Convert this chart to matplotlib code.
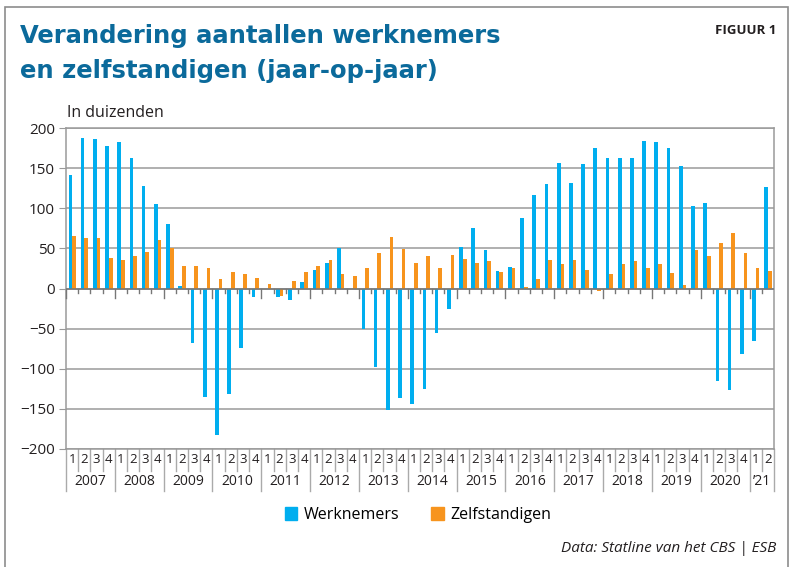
import matplotlib.pyplot as plt
import numpy as np
from matplotlib.patches import Rectangle
import matplotlib.transforms as mtransforms

plt.rcParams['font.family'] = ['Open Sans', 'DejaVu Sans']

years = ['2007', '2008', '2009', '2010', '2011', '2012', '2013',
         '2014', '2015', '2016', '2017', '2018', '2019', '2020', '\u201921']
quarters_per_year = [4] * 14 + [2]

# jaar-op-jaar verandering, in duizenden, per kwartaal 2007K1 - 2021K2
werknemers = [142, 188, 186, 177,
              182, 162, 128, 105,
              80, 3, -68, -135,
              -183, -132, -74, -10,
              -1, -10, -14, 8,
              23, 32, 50, -1,
              -51, -98, -151, -136,
              -144, -125, -56, -26,
              52, 76, 48, 22,
              27, 88, 117, 130,
              156, 132, 155, 175,
              162, 163, 162, 184,
              182, 175, 153, 103,
              107, -115, -126, -82,
              -65, 126]
zelfstandigen = [65, 63, 63, 38,
                 35, 40, 45, 60,
                 50, 28, 28, 26,
                 12, 21, 18, 13,
                 6, -9, 9, 20,
                 28, 36, 18, 15,
                 26, 44, 64, 49,
                 32, 41, 25, 42,
                 37, 32, 34, 20,
                 26, 2, 12, 36,
                 30, 35, 23, -3,
                 18, 31, 34, 26,
                 30, 19, 4, 48,
                 40, 57, 69, 44,
                 26, 22]

blue = '#00aeef'
orange = '#f7941d'
grid_c = '#9a9a9a'
text_c = '#231f20'

fig = plt.figure(figsize=(7.9, 5.67), dpi=100)
fig.patches.append(Rectangle((5 / 790, -0.01), 783 / 790, 1 - 7 / 567 + 0.01,
                             transform=fig.transFigure, fill=False,
                             edgecolor='#8c8c8c', lw=1.2))

ax = fig.add_axes([66 / 790, 1 - 449 / 567, (774 - 66) / 790, (449 - 128) / 567])

n = len(werknemers)
x = np.arange(n)
ax.bar(x + 0.36, werknemers, width=0.3, color=blue, zorder=3)
ax.bar(x + 0.66, zelfstandigen, width=0.3, color=orange, zorder=3)

ax.set_xlim(0, n)
ax.set_ylim(-200, 200)
ax.set_yticks(range(-200, 201, 50))
ax.set_yticklabels([str(v).replace('-', '\u2212') for v in range(-200, 201, 50)],
                   fontsize=11, color=text_c)
ax.tick_params(axis='y', length=5, color=grid_c, pad=3)
ax.set_xticks([])
ax.grid(axis='y', color=grid_c, lw=1.1, zorder=0)
for s in ax.spines.values():
    s.set_color(grid_c)
    s.set_linewidth(1.1)
ax.axhline(0, color='#777777', lw=1.1, zorder=4)

# tickjes op de nullijn en kwartaal/jaar indeling onder de as
trans = mtransforms.blended_transform_factory(ax.transData, ax.transAxes)
zero_y = 0.5
pos = 0
for yr, nq in zip(years, quarters_per_year):
    for q in range(nq):
        xi = pos + q
        if q > 0:
            ax.plot([xi, xi], [zero_y, zero_y - 0.014], transform=trans,
                    color='#777777', lw=1, clip_on=False, zorder=4)
            ax.plot([xi, xi], [0, -0.068], transform=trans,
                    color='#aaaaaa', lw=1, clip_on=False)
        ax.text(xi + 0.5, -0.033, str(q + 1), transform=trans, ha='center',
                va='center', fontsize=9.5, color=text_c)
    ax.plot([pos, pos], [zero_y, zero_y - 0.03], transform=trans,
            color='#777777', lw=1, clip_on=False, zorder=4)
    ax.plot([pos, pos], [0, -0.13], transform=trans,
            color='#aaaaaa', lw=1, clip_on=False)
    ax.text(pos + nq / 2, -0.1, yr, transform=trans, ha='center',
            va='center', fontsize=10, color=text_c)
    pos += nq
ax.plot([pos, pos], [0, -0.13], transform=trans,
        color='#aaaaaa', lw=1, clip_on=False)

title_kw = dict(fontsize=17.5, fontweight='bold', color='#0b6a9b',
                va='baseline', ha='left', family=['DejaVu Sans'])
fig.text(20 / 790, 1 - 43 / 567, 'Verandering aantallen werknemers', **title_kw)
fig.text(20 / 790, 1 - 78 / 567, 'en zelfstandigen (jaar-op-jaar)', **title_kw)
fig.text(776 / 790, 1 - 31 / 567, 'FIGUUR 1', fontsize=9.5, fontweight='bold',
         color=text_c, ha='right', va='center')
fig.text(67 / 790, 1 - 113 / 567, 'In duizenden', fontsize=11.5, color=text_c,
         ha='left', va='center')

handles = [Rectangle((0, 0), 1, 1, color=blue), Rectangle((0, 0), 1, 1, color=orange)]
fig.legend(handles, ['Werknemers', 'Zelfstandigen'], loc='center',
           bbox_to_anchor=(418 / 790, 1 - 515 / 567), ncol=2, frameon=False,
           fontsize=11.5, handlelength=0.8, handleheight=0.8, handletextpad=0.4,
           columnspacing=2.0)

fig.text(776 / 790, 1 - 549 / 567, 'Data: Statline van het CBS | ESB', fontsize=11,
         style='italic', color=text_c, ha='right', va='center')

fig.savefig('out.png', dpi=100)
